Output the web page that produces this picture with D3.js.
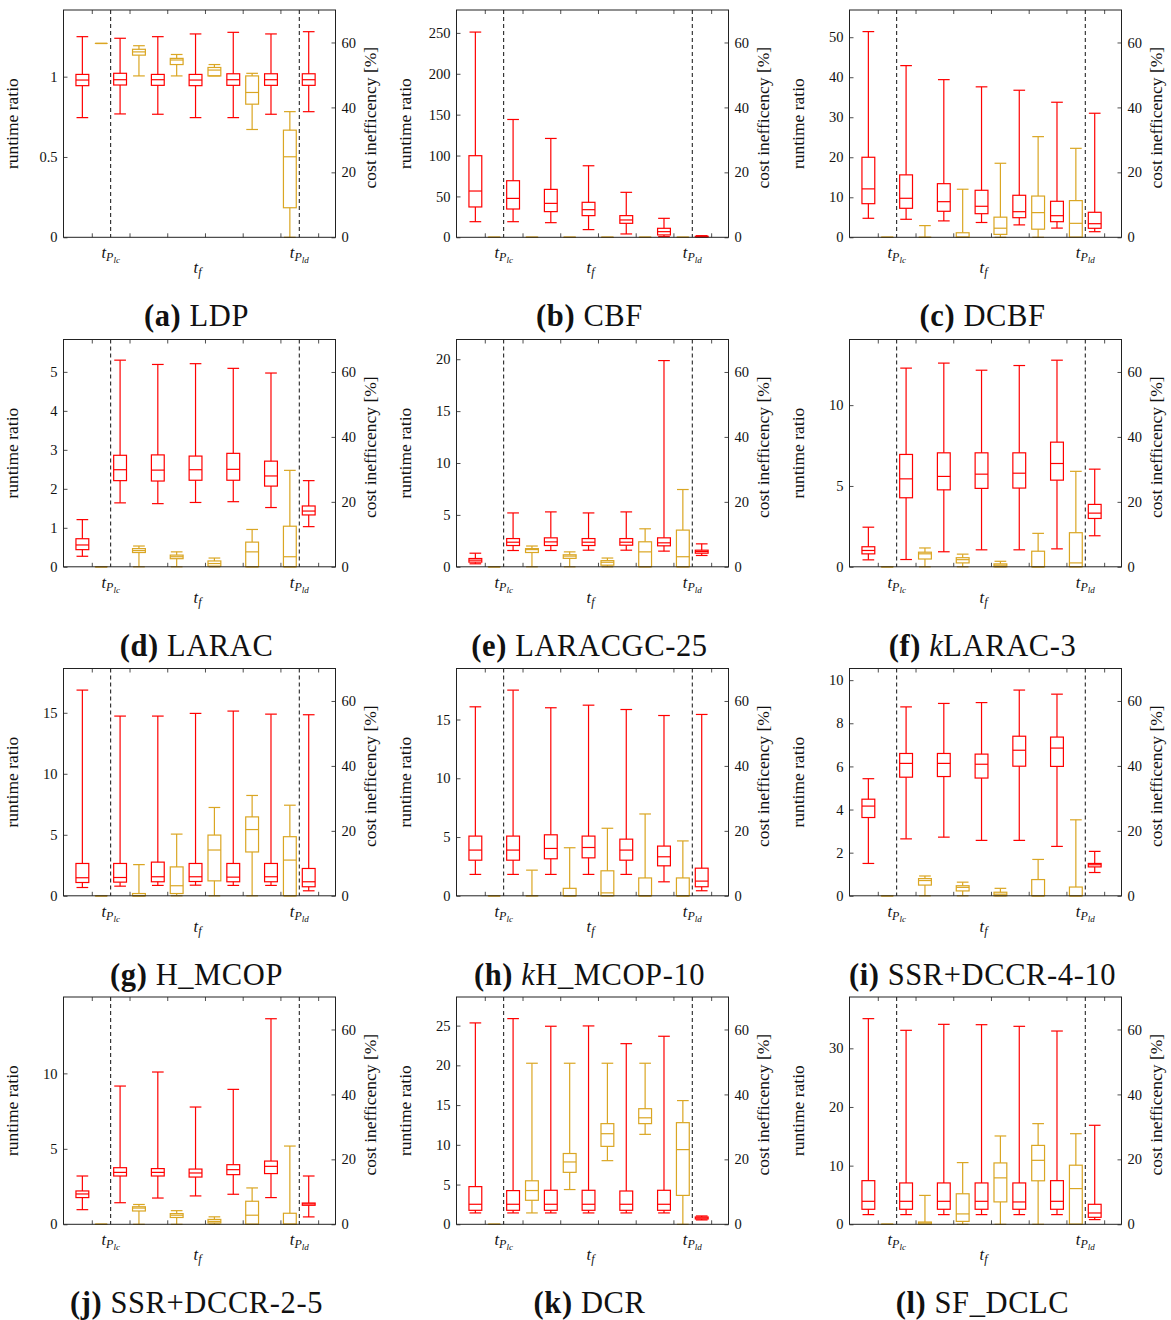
<!DOCTYPE html>
<html>
<head>
<meta charset="utf-8">
<script src="https://cdn.jsdelivr.net/npm/d3@7"></script>
<style>
  body { margin: 0; background: #fff; }
  text { font-family: "Liberation Serif", "DejaVu Serif", serif; fill: #111; }
</style>
</head>
<body>
<svg id="fig" width="1171" height="1320"></svg>
<script>
// ---- panel labels ----
const panelLetters = ["a", "b", "c", "d", "e", "f", "g", "h", "i", "j", "k", "l"];
const nameItalic = ["", "", "", "", "", "k", "", "k", "", "", "", ""];
const nameRest = ["LDP", "CBF", "DCBF", "LARAC", "LARACGC-25", "LARAC-3", "H_MCOP", "H_MCOP-10",
                  "SSR+DCCR-4-10", "SSR+DCCR-2-5", "DCR", "SF_DCLC"];

// ---- left (runtime ratio) axis limits and tick values ----
const runtimeMax = [1.415, 278, 56.8, 5.83, 21.9, 14.06, 18.63, 19.34, 10.54, 15.06, 28.6, 38.75];
const runtimeTicks = [
  [0, 0.5, 1],
  [0, 50, 100, 150, 200, 250],
  [0, 10, 20, 30, 40, 50],
  [0, 1, 2, 3, 4, 5],
  [0, 5, 10, 15, 20],
  [0, 5, 10],
  [0, 5, 10, 15],
  [0, 5, 10, 15],
  [0, 2, 4, 6, 8, 10],
  [0, 5, 10],
  [0, 5, 10, 15, 20, 25],
  [0, 10, 20, 30]
];
// ---- right (cost inefficiency) axis ----
const costMax = 70;
const costTicks = [0, 20, 40, 60];

// ---- box statistics: [lower whisker, Q1, median, Q3, upper whisker] ----
const runtimeLDP = [[0.745,0.944,0.979,1.014,1.249],[0.768,0.948,0.981,1.021,1.239],[0.766,0.946,0.981,1.014,1.249],[0.745,0.944,0.979,1.014,1.266],[0.745,0.946,0.981,1.018,1.276],[0.766,0.946,0.981,1.018,1.266],[0.782,0.946,0.981,1.018,1.28]];
const costLDP = [[59.7,59.7,59.7,59.7,59.7],[49.7,56.1,57.1,57.9,59.0],[49.7,53.2,54.6,55.1,56.3],[49.7,49.7,51.5,52.3,53.2],[33.2,41.0,44.6,49.7,50.5],[0,9.1,24.8,33.0,38.7]];

const runtimeCBF = [[19.1,37.1,56.6,99.8,251],[19.1,34.6,47.6,69.2,144.1],[17.9,31.4,41.5,58.6,120.9],[9.4,26.5,33.8,42.8,87.5],[4.1,17.1,21.2,26.5,55],[0.8,2.9,6.9,11,23.2],[0.4,0.5,0.8,1.2,2]];
const costCBF = [[0,0,0,0,0],[0,0,0,0,0],[0,0,0,0,0],[0,0,0,0,0],[0,0,0,0,0],[0,0,0,0,0]];

const runtimeDCBF = [[4.75,8.4,12.1,20,51.4],[4.5,7.25,9.75,15.6,42.9],[4.1,6.5,8.9,13.4,39.4],[3.7,5.9,7.75,11.75,37.6],[3.1,4.9,6.4,10.5,36.75],[2.3,3.9,5.4,9,33.75],[1.4,2.25,3.4,6.25,31]];
const costDCBF = [[0,0,0,0,0],[0,0,0,0,3.6],[0,0,0,1.4,14.8],[0,0.9,2.8,6.2,22.8],[0,2.5,7.6,12.7,31],[0,0,4.3,11.3,27.4]];

const runtimeLARAC = [[0.27,0.44,0.56,0.72,1.21],[1.64,2.21,2.49,2.86,5.3],[1.62,2.2,2.48,2.87,5.19],[1.65,2.22,2.49,2.84,5.21],[1.67,2.22,2.5,2.91,5.09],[1.52,2.07,2.33,2.71,4.97],[1.03,1.33,1.43,1.56,2.21]];
const costLARAC = [[0,0,0,0,0],[0,4.4,5.0,5.6,6.4],[0,2.5,3.1,3.6,4.6],[0,0.2,1.0,1.8,2.7],[0,0,4.6,7.6,11.5],[0,0,3.1,12.5,29.7]];

const runtimeLARACGC = [[0.29,0.45,0.64,0.8,1.31],[1.57,2.05,2.37,2.72,5.19],[1.57,2.05,2.4,2.79,5.29],[1.6,2.05,2.37,2.72,5.19],[1.6,2.08,2.37,2.72,5.29],[1.51,2.02,2.31,2.79,19.87],[1.09,1.31,1.47,1.6,2.21]];
const costLARACGC = [[0,0,0,0,0],[0,4.4,5.3,5.6,6.4],[0,2.6,3.3,3.7,4.6],[0,0.5,1.4,1.9,2.7],[0,0,4.6,7.7,11.7],[0,0,3.1,11.3,23.8]];

const runtimeKLARAC = [[0.43,0.8,1.01,1.24,2.45],[0.45,4.27,5.44,6.95,12.29],[0.93,4.76,5.59,7.05,12.6],[1.05,4.85,5.73,7.05,12.16],[1.05,4.87,5.79,7.05,12.45],[1.11,5.36,6.39,7.71,12.78],[1.92,2.99,3.32,3.86,6.04]];
const costKLARAC = [[0,0,0,0,0],[0,2.4,4.0,4.5,5.8],[0,1.2,2.2,2.8,3.9],[0,0,0.5,0.9,1.7],[0,0,0,4.8,10.3],[0,0,1.2,10.5,29.4]];

const runtimeHMCOP = [[0.68,1.09,1.48,2.65,16.86],[0.79,1.12,1.5,2.65,14.73],[0.85,1.15,1.56,2.76,14.73],[0.87,1.17,1.56,2.65,14.95],[0.85,1.15,1.53,2.65,15.14],[0.85,1.15,1.56,2.65,14.89],[0.41,0.74,1.15,2.24,14.84]];
const costHMCOP = [[0,0,0,0,0],[0,0,0,0.7,9.6],[0,0.7,3.1,8.9,19.0],[0,4.6,14.1,18.7,27.2],[0,13.5,20.4,24.3,30.9],[0,0,11.0,18.2,27.9]];

const runtimeKHMCOP = [[1.82,3.03,3.89,5.08,16.08],[1.82,3.03,3.89,5.08,17.5],[1.82,3.15,4.03,5.19,16.0],[1.82,3.23,4.11,5.08,16.22],[1.82,3.03,3.89,4.82,15.85],[1.19,2.55,3.32,4.23,15.34],[0.43,0.77,1.25,2.35,15.43]];
const costKHMCOP = [[0,0,0,0,0],[0,0,0,0,7.9],[0,0,0,2.3,14.8],[0,0,0.9,7.7,20.8],[0,0,0,5.5,25.2],[0,0,0,5.5,16.9]];

const runtimeSSR410 = [[1.5,3.63,4.16,4.48,5.43],[2.64,5.5,6.14,6.6,8.76],[2.72,5.53,6.14,6.6,8.92],[2.57,5.46,6.1,6.57,8.96],[2.57,6.01,6.75,7.4,9.54],[2.29,6.0,6.85,7.36,9.35],[1.08,1.34,1.44,1.5,2.06]];
const costSSR410 = [[0,0,0,0,0],[0,3.3,4.7,5.3,6.1],[0,1.5,2.6,3.1,4.2],[0,0,0.5,1.1,2.3],[0,0,0,5.0,11.2],[0,0,0,2.7,23.4]];

const runtimeSSR25 = [[0.97,1.77,2.01,2.21,3.2],[1.43,3.2,3.44,3.75,9.16],[1.74,3.2,3.44,3.69,10.09],[1.88,3.13,3.4,3.66,7.77],[1.99,3.29,3.62,3.95,8.94],[1.77,3.36,3.84,4.19,13.62],[0.49,1.26,1.35,1.41,3.2]];
const costSSR25 = [[0,0,0,0,0],[0,4.1,5.0,5.4,6.1],[0,2.1,2.8,3.3,4.2],[0,0.4,0.9,1.5,2.3],[0,0,2.8,7.1,11.2],[0,0,0,3.4,24.1]];

const runtimeDCR = [[1.43,1.76,2.52,4.74,25.34],[1.43,1.76,2.52,4.24,25.88],[1.43,1.76,2.52,4.28,24.92],[1.43,1.76,2.52,4.28,24.96],[1.43,1.76,2.52,4.19,22.73],[1.43,1.76,2.52,4.28,23.66],[0.55,0.67,0.8,0.92,1.05]];
const costDCR = [[0,0,0,0,0],[3.5,7.4,10.4,13.4,49.6],[10.7,16.0,19.2,21.8,49.6],[19.6,24.0,27.9,31.0,49.6],[27.7,31.0,32.8,35.6,49.6],[0,8.9,23.0,31.3,38.1]];

const runtimeSFDCLC = [[1.65,2.56,3.92,7.44,35.06],[1.65,2.56,3.92,7.05,33.07],[1.65,2.56,3.92,7.05,34.09],[1.65,2.56,3.92,7.05,34.03],[1.65,2.56,3.81,7.05,33.75],[1.65,2.56,3.92,7.44,32.95],[0.8,1.19,1.93,3.41,16.88]];
const costSFDCLC = [[0,0,0,0,0],[0,0,0.4,0.7,8.9],[0,0.9,3.2,9.4,19.0],[0,6.9,14.3,18.9,27.2],[0,13.4,19.7,24.3,31.0],[0,0,11.0,18.2,27.9]];

const runtimeSeries = [runtimeLDP, runtimeCBF, runtimeDCBF, runtimeLARAC, runtimeLARACGC, runtimeKLARAC,
                       runtimeHMCOP, runtimeKHMCOP, runtimeSSR410, runtimeSSR25, runtimeDCR, runtimeSFDCLC];
const costSeries = [costLDP, costCBF, costDCBF, costLARAC, costLARACGC, costKLARAC,
                    costHMCOP, costKHMCOP, costSSR410, costSSR25, costDCR, costSFDCLC];

// ---- layout ----
const W = 272, H = 227.3;
const colX = [63.5, 456.5, 849.5];
const rowY = [10, 339.5, 668.5, 997];
const RED = "#ff0000", GOLD = "#daa623";
const boxW = 0.34;          // box width in group units
const capW = 0.31;          // whisker cap width in group units

const svg = d3.select("#fig");
svg.append("rect").attr("width", 1171).attr("height", 1320).attr("fill", "#fff");

function drawBox(g, x, xc, s, y, color) {
  const [lo, q1, med, q3, hi] = s;
  const bw = x(xc + boxW / 2) - x(xc - boxW / 2);
  const cw = x(xc + capW / 2) - x(xc - capW / 2);
  const cx = x(xc);
  const b = g.append("g").attr("stroke", color).attr("stroke-width", 1.2).attr("fill", "none");
  // whiskers
  b.append("line").attr("x1", cx).attr("x2", cx).attr("y1", y(q3)).attr("y2", y(hi));
  b.append("line").attr("x1", cx).attr("x2", cx).attr("y1", y(q1)).attr("y2", y(lo));
  b.append("line").attr("x1", cx - cw / 2).attr("x2", cx + cw / 2).attr("y1", y(hi)).attr("y2", y(hi));
  b.append("line").attr("x1", cx - cw / 2).attr("x2", cx + cw / 2).attr("y1", y(lo)).attr("y2", y(lo));
  // box and median
  b.append("rect").attr("x", cx - bw / 2).attr("y", y(q3)).attr("width", bw).attr("height", Math.max(0, y(q1) - y(q3)));
  b.append("line").attr("x1", cx - bw / 2).attr("x2", cx + bw / 2).attr("y1", y(med)).attr("y2", y(med));
}

function subLabel(g, x, y, sub) {
  const t = g.append("text").attr("x", x).attr("y", y).attr("text-anchor", "middle");
  t.append("tspan").attr("font-style", "italic").attr("font-size", 16.5).text("t");
  t.append("tspan").attr("font-style", "italic").attr("font-size", 12).attr("dy", 3).text("P");
  t.append("tspan").attr("font-style", "italic").attr("font-size", 9).attr("dy", 2).text(sub);
}

panelLetters.forEach((letter, i) => {
  const ox = colX[i % 3], oy = rowY[Math.floor(i / 3)];
  const g = svg.append("g").attr("transform", `translate(${ox},${oy})`);

  const x = d3.scaleLinear().domain([0.25, 7.46]).range([0, W]);
  const yL = d3.scaleLinear().domain([0, runtimeMax[i]]).range([H, 0]);
  const yR = d3.scaleLinear().domain([0, costMax]).range([H, 0]);

  // left axis: inward ticks
  const fmt = i === 0 ? d3.format("") : d3.format("d");
  const left = g.append("g").call(d3.axisLeft(yL).tickValues(runtimeTicks[i]).tickSize(-4).tickPadding(6).tickFormat(fmt));
  // right axis: inward ticks
  const right = g.append("g").attr("transform", `translate(${W},0)`)
    .call(d3.axisRight(yR).tickValues(costTicks).tickSize(-4).tickPadding(6));
  // group ticks on bottom and top
  const groups = d3.range(1, 8);
  const bottom = g.append("g").attr("transform", `translate(0,${H})`)
    .call(d3.axisBottom(x).tickValues(groups).tickSize(-4).tickFormat(""));
  const top = g.append("g").call(d3.axisTop(x).tickValues(groups).tickSize(-4).tickFormat(""));
  [left, right, bottom, top].forEach(a => {
    a.select(".domain").remove();
    a.selectAll(".tick line").attr("stroke", "#222").attr("stroke-width", 0.8);
    a.selectAll(".tick text").attr("font-family", "'Liberation Serif', serif").attr("font-size", 14.5).attr("fill", "#222");
  });

  // boxes: runtime at group-0.25, cost at group+0.25
  runtimeSeries[i].forEach((s, k) => drawBox(g, x, k + 1 - 0.25, s, yL, RED));
  costSeries[i].forEach((s, k) => drawBox(g, x, k + 1 + 0.25, s, yR, GOLD));

  // dashed markers between groups
  [1.5, 6.5].forEach(v => {
    g.append("line").attr("x1", x(v)).attr("x2", x(v)).attr("y1", 0).attr("y2", H)
      .attr("stroke", "#111").attr("stroke-width", 1).attr("stroke-dasharray", "4,3");
  });

  // frame
  g.append("rect").attr("width", W).attr("height", H).attr("fill", "none")
    .attr("stroke", "#222").attr("stroke-width", 1);

  // x labels
  subLabel(g, x(1.5), H + 21, "lc");
  subLabel(g, x(6.5), H + 21, "ld");
  const tf = g.append("text").attr("x", W / 2 - 2).attr("y", H + 36).attr("text-anchor", "middle");
  tf.append("tspan").attr("font-style", "italic").attr("font-size", 16.5).text("t");
  tf.append("tspan").attr("font-style", "italic").attr("font-size", 12).attr("dy", 3).text("f");

  // axis titles
  g.append("text").attr("transform", `translate(-46,${H / 2}) rotate(-90)`)
    .attr("text-anchor", "middle").attr("font-size", 17.5).attr("fill", "#222").text("runtime ratio");
  g.append("text").attr("transform", `translate(${W + 40},${H / 2 - 6}) rotate(-90)`)
    .attr("text-anchor", "middle").attr("font-size", 17.5).attr("fill", "#222").text("cost inefficency [%]");

  // caption
  const cap = g.append("text").attr("x", W / 2 - 3).attr("y", H + 89).attr("text-anchor", "middle")
    .attr("font-size", 30.5).attr("letter-spacing", 0.6).attr("fill", "#000");
  cap.append("tspan").attr("font-weight", "bold").text(`(${letter})`);
  cap.append("tspan").text(" ");
  if (nameItalic[i]) cap.append("tspan").attr("font-style", "italic").text(nameItalic[i]);
  cap.append("tspan").text(nameRest[i]);
});
</script>
</body>
</html>
